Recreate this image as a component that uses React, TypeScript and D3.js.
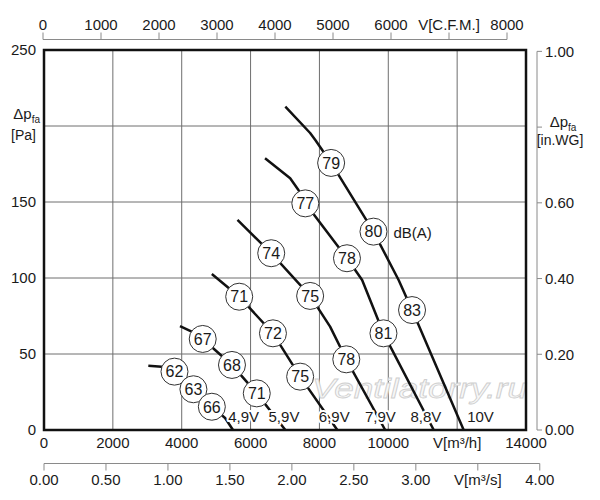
import React from 'react';
import * as d3 from 'd3';

const W = 600;
const H = 500;

// Axis ticks and labels
const flowTicks = [0, 2000, 4000, 6000, 8000, 10000, 12000, 14000];
const flowLabels = ['0', '2000', '4000', '6000', '8000', '10000', 'V[m³/h]', '14000'];
const gridFlow = [2000, 4000, 6000, 8000, 10000, 12000];
const paTicks = [0, 50, 100, 150, 200, 250];
const paLabels = ['0', '50', '100', '150', '', '250'];
const gridPa = [50, 100, 150, 200];
const wgTicks = [0, 0.2, 0.4, 0.6, 0.8, 1.0];
const wgLabels = ['0.00', '0.20', '0.40', '0.60', '', '1.00'];
const cfmTicks = [0, 1000, 2000, 3000, 4000, 5000, 6000, 7000, 8000];
const cfmLabels = ['0', '1000', '2000', '3000', '4000', '5000', '6000', 'V[C.F.M.]', '8000'];
const m3sTicks = [0, 0.5, 1, 1.5, 2, 2.5, 3, 3.5, 4];
const m3sLabels = ['0.00', '0.50', '1.00', '1.50', '2.00', '2.50', '3.00', 'V[m³/s]', '4.00'];

// Fan curves: [flow m³/h, pressure Pa]
const curve49: [number, number][] = [[3030, 42.3], [3420, 41.6], [3790, 38.4], [4340, 26.8], [4875, 15.3], [5260, 7.9], [5490, 0]];
const curve59: [number, number][] = [[3950, 68.4], [4290, 64.7], [4610, 59.9], [5460, 42.8], [6180, 24.1], [7010, 0]];
const curve69: [number, number][] = [[4875, 102.6], [5670, 87.7], [6650, 63.6], [7440, 35.1], [8520, 0]];
const curve79: [number, number][] = [[5620, 138.2], [6600, 116.3], [7730, 88.2], [8310, 68.0], [8780, 46.5], [9910, 0]];
const curve88: [number, number][] = [[6420, 178.8], [7150, 165.6], [7390, 157.9], [7590, 149.1], [8800, 113.0], [9240, 98.7], [9860, 63.6], [11320, 0]];
const curve10: [number, number][] = [[7010, 212.7], [7730, 195.4], [7880, 190.8], [8340, 175.7], [9570, 130.5], [10300, 98.7], [10690, 78.9], [10880, 69.1], [12190, 0]];
const curves = [curve49, curve59, curve69, curve79, curve88, curve10];

// Sound levels dB(A): [flow, pressure, value]
const db49: [number, number, number][] = [[3790, 38.4, 62], [4340, 26.8, 63], [4875, 15.3, 66]];
const db59: [number, number, number][] = [[4610, 59.9, 67], [5460, 42.8, 68], [6180, 24.1, 71]];
const db69: [number, number, number][] = [[5670, 87.7, 71], [6650, 63.6, 72], [7440, 35.1, 75]];
const db79: [number, number, number][] = [[6600, 116.3, 74], [7730, 88.2, 75], [8780, 46.5, 78]];
const db88: [number, number, number][] = [[7590, 149.1, 77], [8800, 113.0, 78], [9860, 63.6, 81]];
const db10: [number, number, number][] = [[8340, 175.7, 79], [9570, 130.5, 80], [10690, 78.9, 83]];
const dbMarks = [db49, db59, db69, db79, db88, db10];

// Voltage labels
const voltNames = ['4,9V', '5,9V', '6,9V', '7,9V', '8,8V', '10V'];
const voltFlow = [5800, 6970, 8430, 9770, 11090, 12680];
const voltPa = 8.8;

const FONT = '"Liberation Sans", Arial, Helvetica, sans-serif';
const TXT = '#1a1a1a';

export default function App() {
  const x = d3.scaleLinear().domain([0, 14000]).range([44, 526]);
  const y = d3.scaleLinear().domain([0, 250]).range([430, 50]);
  const yWG = d3.scaleLinear().domain([0, 1]).range([y(0), y(249.1)]);
  const xCFM = d3.scaleLinear().domain([0, 8000]).range([43, 507]);
  const xM3s = d3.scaleLinear().domain([0, 4]).range([x(0), x(14400)]);
  const line = d3.line<[number, number]>().x(d => x(d[0])).y(d => y(d[1]));

  const topY = 39.5;
  const botY = 463.5;
  const rightX = 537;

  return (
    <svg width={W} height={H} style={{ position: 'absolute', left: 0, top: 0, background: '#fff' }}
      fontFamily={FONT}>
      <rect x={0} y={0} width={W} height={H} fill="#fff" />

      {/* grid */}
      {gridFlow.map(f => (
        <line key={'gv' + f} x1={x(f)} x2={x(f)} y1={y(0)} y2={y(250)} stroke="#6e6e6e" strokeWidth={1} />
      ))}
      {gridPa.map(p => (
        <line key={'gh' + p} x1={x(0)} x2={x(14000)} y1={y(p)} y2={y(p)} stroke="#6e6e6e" strokeWidth={1} />
      ))}

      {/* watermark */}
      <text x={312} y={398} fontSize={28} fontStyle="italic" fill="#f7f7f7" stroke="#cfcfcf" strokeWidth={0.8}
        textLength={215} lengthAdjust="spacingAndGlyphs">Ventilatorry.ru</text>

      {/* curves */}
      {curves.map((c, i) => (
        <path key={'c' + i} d={line(c) || ''} fill="none" stroke="#111" strokeWidth={2.5} strokeLinejoin="round" />
      ))}

      {/* voltage labels */}
      {voltNames.map((n, i) => (
        <text key={'v' + i} x={x(voltFlow[i])} y={y(voltPa)} dy="0.35em" textAnchor="middle" fontSize={15}
          fill={TXT} stroke="#fff" strokeWidth={4} paintOrder="stroke" strokeLinejoin="round">{n}</text>
      ))}

      {/* dB markers */}
      {dbMarks.map((arr, i) => arr.map((m, j) => (
        <g key={'m' + i + '-' + j} transform={`translate(${x(m[0])},${y(m[1])})`}>
          <circle r={13.5} fill="#fff" stroke="#333" strokeWidth={1} />
          <text textAnchor="middle" dy="0.36em" fontSize={16} fill={TXT}>{m[2]}</text>
        </g>
      )))}
      <text x={x(10150)} y={y(130)} dy="0.35em" fontSize={15} fill={TXT}>dB(A)</text>

      {/* frame */}
      <rect x={x(0)} y={y(250)} width={x(14000) - x(0)} height={y(0) - y(250)} fill="none" stroke="#111" strokeWidth={2.5} />

      {/* left axis labels */}
      {paTicks.map((p, i) => paLabels[i] ? (
        <text key={'pl' + p} x={36} y={y(p)} dy="0.35em" textAnchor="end" fontSize={15} fill={TXT}>{paLabels[i]}</text>
      ) : null)}
      <text x={40} y={119} textAnchor="end" fontSize={15} fill={TXT}>Δp<tspan fontSize={10} dy={4}>fa</tspan></text>
      <text x={36} y={140} textAnchor="end" fontSize={14} fill={TXT}>[Pa]</text>

      {/* bottom m3/h labels */}
      {flowTicks.map((f, i) => (
        <text key={'fl' + f} x={x(f)} y={448} textAnchor="middle" fontSize={15} fill={TXT}>
          {flowLabels[i]}
        </text>
      ))}

      {/* right axis (in.WG) */}
      <line x1={rightX} x2={rightX} y1={yWG(1)} y2={yWG(0)} stroke="#8a8a8a" strokeWidth={1} />
      {wgTicks.map((t, i) => (
        <g key={'wg' + t}>
          <line x1={rightX} x2={rightX + 5} y1={yWG(t)} y2={yWG(t)} stroke="#8a8a8a" strokeWidth={1} />
          {wgLabels[i] ? (
            <text x={545} y={yWG(t)} dy="0.35em" fontSize={15} fill={TXT}>{wgLabels[i]}</text>
          ) : null}
        </g>
      ))}
      <text x={563} y={127} textAnchor="middle" fontSize={15} fill={TXT}>Δp<tspan fontSize={10} dy={4}>fa</tspan></text>
      <text x={560} y={145} textAnchor="middle" fontSize={14} fill={TXT}>[in.WG]</text>

      {/* top axis (CFM) */}
      <line x1={xCFM(0)} x2={xCFM(8000)} y1={topY} y2={topY} stroke="#8a8a8a" strokeWidth={1} />
      {cfmTicks.map((t, i) => (
        <g key={'cf' + t}>
          <line x1={xCFM(t)} x2={xCFM(t)} y1={topY} y2={topY - 7} stroke="#8a8a8a" strokeWidth={1} />
          <text x={xCFM(t)} y={30} textAnchor="middle" fontSize={15} fill={TXT}>{cfmLabels[i]}</text>
        </g>
      ))}

      {/* bottom axis (m3/s) */}
      <line x1={xM3s(0)} x2={xM3s(4)} y1={botY} y2={botY} stroke="#8a8a8a" strokeWidth={1} />
      {m3sTicks.map((t, i) => (
        <g key={'ms' + t}>
          <line x1={xM3s(t)} x2={xM3s(t)} y1={botY} y2={botY + 7} stroke="#8a8a8a" strokeWidth={1} />
          <text x={xM3s(t)} y={485} textAnchor="middle" fontSize={15} fill={TXT}>{m3sLabels[i]}</text>
        </g>
      ))}
    </svg>
  );
}
